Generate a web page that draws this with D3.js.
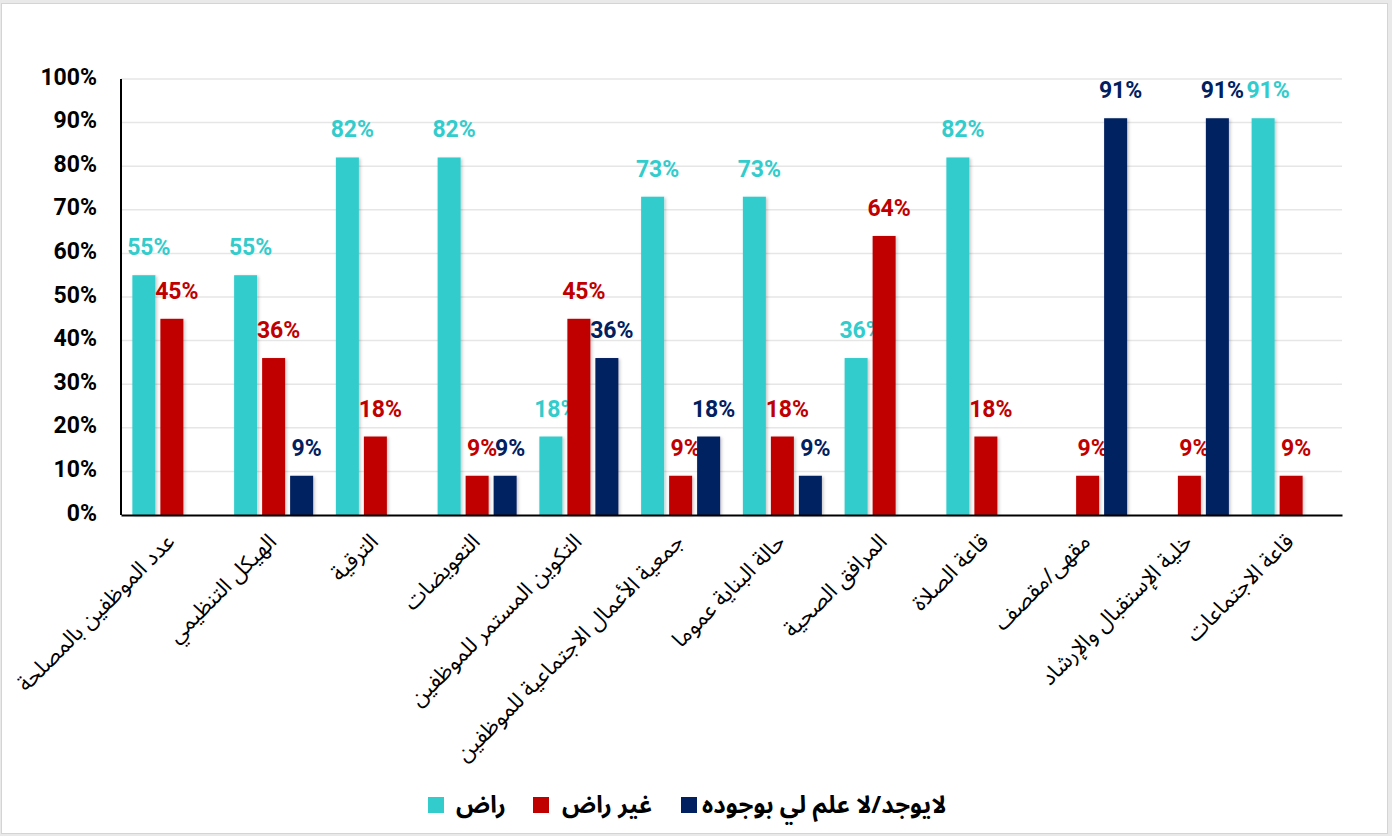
<!DOCTYPE html>
<html>
<head>
<meta charset="utf-8">
<script src="https://cdn.jsdelivr.net/npm/d3@7"></script>
<style>
  html, body { margin: 0; padding: 0; background: #e9e9e9; }
  svg { display: block; }
</style>
</head>
<body>
<svg id="chart" width="1392" height="836"></svg>
<script>
const categories = [
  "عدد الموظفين بالمصلحة",
  "الهيكل التنظيمي",
  "الترقية",
  "التعويضات",
  "التكوين المستمر للموظفين",
  "جمعية الأعمال الاجتماعية للموظفين",
  "حالة البناية عموما",
  "المرافق الصحية",
  "قاعة الصلاة",
  "مقهى/مقصف",
  "خلية الإستقبال والإرشاد",
  "قاعة الاجتماعات"
];
const seriesNames = ["راض", "غير راض", "لايوجد/لا علم لي بوجوده"];
const satisfied    = [55, 55, 82, 82, 18, 73, 73, 36, 82, null, null, 91];
const unsatisfied  = [45, 36, 18, 9, 45, 9, 18, 64, 18, 9, 9, 9];
const notAvailable = [null, 9, null, 9, 36, 18, 9, null, null, 91, 91, null];
const yTicks = [0, 10, 20, 30, 40, 50, 60, 70, 80, 90, 100];
const colors = ["#33CCCC", "#C00000", "#002060"];

const series = [satisfied, unsatisfied, notAvailable];

(function () {
const svg = d3.select("#chart");
const arabicFont = "'Noto Sans Arabic', 'Noto Naskh Arabic', 'Noto Sans', 'DejaVu Sans', sans-serif";

// frame
svg.append("rect").attr("x", 1.5).attr("y", 3.5).attr("width", 1386).attr("height", 830)
  .attr("fill", "#ffffff").attr("stroke", "#d4d4d4").attr("stroke-width", 1);

const defs = svg.append("defs");
const f = defs.append("filter").attr("id", "shadow").attr("x", "-20%").attr("y", "-5%").attr("width", "150%").attr("height", "115%");
f.append("feDropShadow").attr("dx", 1.5).attr("dy", 1).attr("stdDeviation", 1.5)
  .attr("flood-color", "#000").attr("flood-opacity", 0.22);

const mLeft = 121, mRight = 1342, mTop = 79, mBottom = 515;

const x = d3.scaleBand().domain(categories).range([mLeft, mRight]).paddingInner(0).paddingOuter(0);
const y = d3.scaleLinear().domain([0, 100]).range([mBottom, mTop]);

const barW = 23, barGap = 5;
const groupW = barW * 3 + barGap * 2;
const xs = d3.scaleBand().domain([0, 1, 2]).range([0, groupW]).paddingInner(barGap / (barW + barGap)).paddingOuter(0);

// gridlines
svg.append("g").selectAll("line").data(yTicks.filter(d => d > 0)).join("line")
  .attr("x1", mLeft).attr("x2", mRight)
  .attr("y1", d => y(d)).attr("y2", d => y(d))
  .attr("stroke", "#e6e6e6").attr("stroke-width", 1.5);

// y axis labels
const yAxis = d3.axisLeft(y).tickValues(yTicks).tickFormat(d => d + "%").tickSize(0).tickPadding(24);
const gy = svg.append("g").attr("transform", `translate(${mLeft},0)`).call(yAxis);
gy.select(".domain").remove();
gy.selectAll("text")
  .attr("font-family", "Roboto, 'Liberation Sans', sans-serif")
  .attr("font-weight", "bold").attr("font-size", 23).attr("fill", "#000")
  .attr("dy", "0.22em");

// bars + labels
series.forEach((vals, si) => {
  const data = categories.map((c, i) => ({ c, v: vals[i], si })).filter(d => d.v != null);
  svg.append("g").selectAll("rect").data(data).join("rect")
    .attr("x", d => x(d.c) + (x.bandwidth() - groupW) / 2 + xs(si))
    .attr("y", d => y(d.v))
    .attr("width", xs.bandwidth())
    .attr("height", d => y(0) - y(d.v))
    .attr("fill", colors[si])
    .attr("filter", "url(#shadow)");
  svg.append("g").selectAll("text").data(data).join("text")
    .attr("x", d => x(d.c) + (x.bandwidth() - groupW) / 2 + xs(si) + xs.bandwidth() / 2 + 5)
    .attr("y", d => y(d.v) - 20)
    .attr("text-anchor", "middle")
    .attr("font-family", "Roboto, 'Liberation Sans', sans-serif")
    .attr("font-weight", "bold").attr("font-size", 23)
    .attr("fill", colors[si])
    .text(d => d.v + "%");
});

// axes lines
const xAxis = d3.axisBottom(x).tickSize(0).tickFormat("");
const gx = svg.append("g").attr("transform", `translate(0,${mBottom})`).call(xAxis);
gx.select(".domain").attr("stroke", "#000").attr("stroke-width", 2);
svg.append("line").attr("x1", mLeft).attr("x2", mLeft).attr("y1", mTop).attr("y2", mBottom)
  .attr("stroke", "#000").attr("stroke-width", 2);

// x labels
svg.append("g").selectAll("text").data(categories).join("text")
  .attr("transform", d => `translate(${x(d) + x.bandwidth() / 2 + 4},${mBottom + 28}) rotate(-45)`)
  .attr("text-anchor", "end")
  .attr("font-family", arabicFont)
  .attr("font-size", 22).attr("fill", "#000")
  .text(d => d);

// legend
const legendItems = [
  { name: seriesNames[0], color: colors[0], x: 428, tx: 28 },
  { name: seriesNames[1], color: colors[1], x: 533, tx: 29 },
  { name: seriesNames[2], color: colors[2], x: 681, tx: 21 }
];
const lg = svg.append("g").selectAll("g").data(legendItems).join("g")
  .attr("transform", d => `translate(${d.x},797)`);
lg.append("rect").attr("width", 16).attr("height", 16).attr("fill", d => d.color);
lg.append("text").attr("x", d => d.tx).attr("y", 16)
  .attr("font-family", arabicFont)
  .attr("font-weight", "bold").attr("font-size", 24).attr("fill", "#000")
  .attr("text-anchor", "start")
  .text(d => d.name);
})();
</script>
</body>
</html>
